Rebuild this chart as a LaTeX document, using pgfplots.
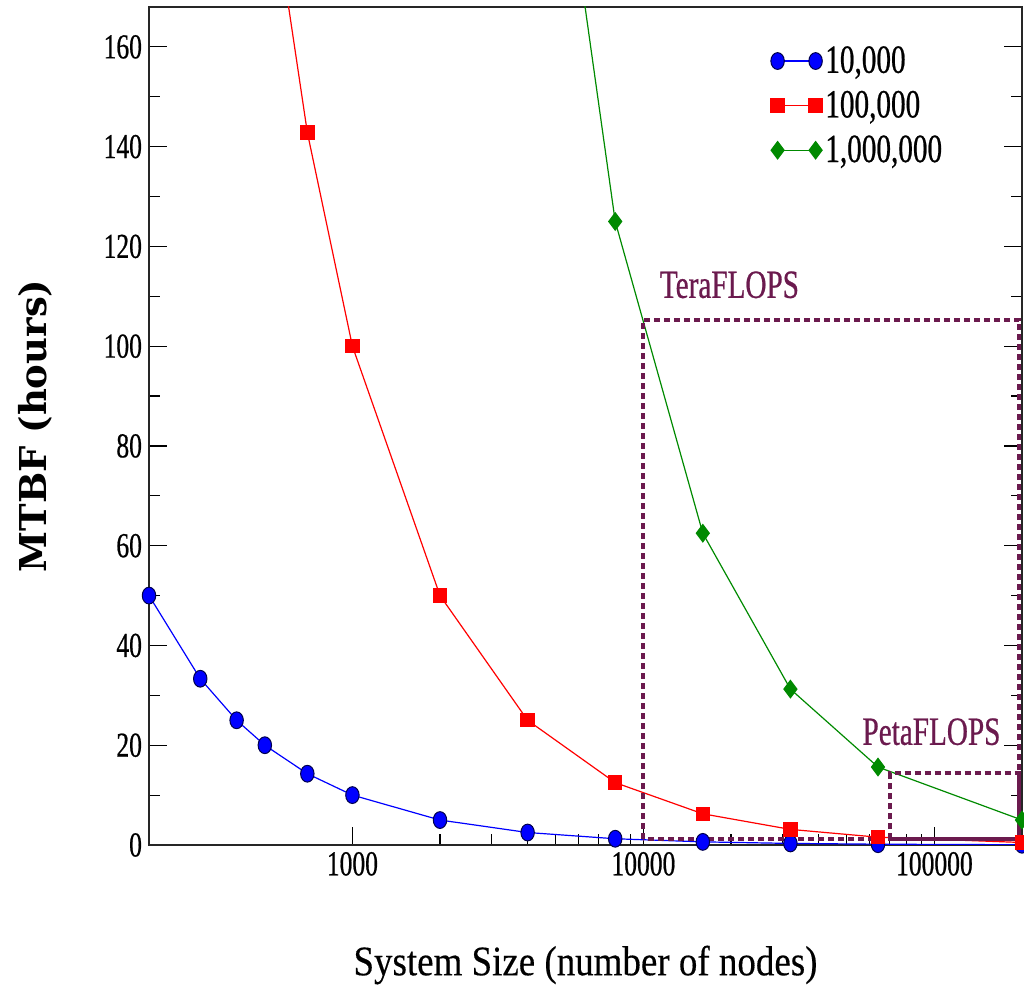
\documentclass[border=0pt]{standalone}
\usepackage{fontspec}
\setmainfont{Liberation Serif}[FakeStretch=0.73, FakeBold=0.6]
\newfontfamily\widefont{Liberation Serif}[FakeStretch=0.88, FakeBold=0.3]
\newfontfamily\labelfont{DejaVu Serif}
\usepackage{pgfplots}
\pgfplotsset{compat=1.18}
\definecolor{boxpurple}{HTML}{6B1A4E}
\definecolor{mgreen}{HTML}{008A00}

\begin{document}
\begin{tikzpicture}
\begin{axis}[
    scale only axis,
    width=436.5pt, height=419pt,
    xmode=log,
    xmin=200, xmax=200000,
    ymin=0, ymax=168,
    xtick={1000,10000,100000},
    xticklabels={1000,10000,100000},
    ytick={0,20,...,160},
    minor y tick num=1,
    xtick pos=left,
    major tick length=9pt,
    minor tick length=5.5pt,
    tick style={black, line width=0.6pt},
    axis line style={black!85, line width=0.8pt},
    /pgf/number format/assume math mode=true,
    tick label style={font=\fontsize{17.5}{19}\selectfont},
    xlabel={\widefont System Size (number of nodes)},
    xlabel style={font=\fontsize{21}{24}\selectfont, at={(axis description cs:0.5,-0.1432)}, anchor=center},
    ylabel={\labelfont\bfseries MTBF (hours)},
    ylabel style={font=\fontsize{18.5}{21}\selectfont, at={(axis description cs:-0.1306,0.5)}, anchor=center},
    legend style={at={(0.705,0.962)}, anchor=north west, draw=none, fill=none,
        font=\fontsize{20}{22}\selectfont, row sep=4.5pt, nodes={inner sep=1.5pt},
        /tikz/every even column/.append style={column sep=4pt}},
    legend cell align=left,
    legend image code/.code={\draw[#1] plot coordinates {(0pt,0pt) (19pt,0pt)};},
]

% lines that run off the top of the axis
\addplot[red, line width=0.6pt, forget plot] coordinates {(500,200) (700,142.86)};
\addplot[mgreen, line width=0.6pt, forget plot] coordinates {(4000,250) (8000,125)};

\addplot[blue, line width=0.6pt, mark=*, mark size=4.2pt,
    mark options={xscale=0.8, fill=blue, draw=black!70!blue, line width=0.5pt}]
coordinates {
(200,50) (300,33.33) (400,25) (500,20) (700,14.29) (1000,10)
(2000,5) (4000,2.5) (8000,1.25) (16000,0.625) (32000,0.3125)
(64000,0.156) (200000,0.05)
};
\addlegendentry{10,000}

\addplot[red, line width=0.6pt, mark=square*, mark size=3.3pt,
    mark options={fill=red, draw=red}]
coordinates {
(700,142.86) (1000,100) (2000,50) (4000,25) (8000,12.5)
(16000,6.25) (32000,3.125) (64000,1.5625) (200000,0.5)
};
\addlegendentry{100,000}

\addplot[mgreen, line width=0.6pt, mark=diamond*, mark size=4.3pt,
    mark options={fill=mgreen, draw=mgreen}]
coordinates {
(8000,125) (16000,62.5) (32000,31.25) (64000,15.625) (200000,5)
};
\addlegendentry{1,000,000}

\draw[boxpurple, line width=2pt, dash pattern=on 3pt off 2pt]
    (axis cs:10000,1.2) rectangle (axis cs:196000,105.3);
\draw[boxpurple, line width=2pt, dash pattern=on 3pt off 2pt]
    (axis cs:70600,1.2) rectangle (axis cs:196000,14.4);
\node[text=boxpurple, font=\fontsize{20}{22}\selectfont] at (axis cs:19750,112.3) {TeraFLOPS};
\node[text=boxpurple, font=\fontsize{20}{22}\selectfont] at (axis cs:97700,22.7) {PetaFLOPS};

\end{axis}
\pgfresetboundingbox
\path ([xshift=-74.5pt,yshift=-76.5pt]current axis.south west)
    rectangle ([xshift=1pt,yshift=3.5pt]current axis.north east);
\end{tikzpicture}
\end{document}
